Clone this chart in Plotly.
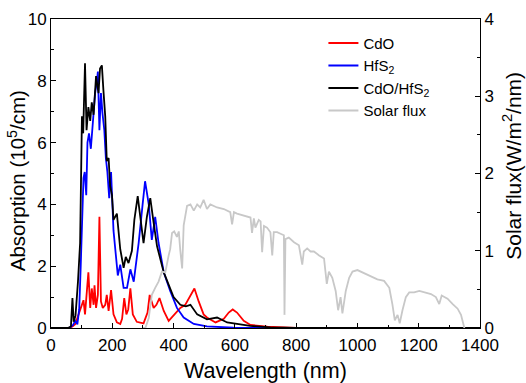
import plotly.graph_objects as go

# ---- data ----
cdo_x = [0, 60, 70, 79, 90, 100, 106, 111, 117, 122, 128, 133, 139, 142, 147, 153, 158, 163, 169, 177, 182, 188, 196, 204, 215, 226, 232, 239, 246, 252, 259, 267, 280, 302, 315, 322, 335, 344, 354, 368, 384, 405, 422, 438, 455, 468, 482, 498, 509, 537, 564, 580, 593, 607, 629, 651, 706, 750, 800, 1400]
cdo_y = [0, 0, 0.05, 0.12, 0.44, 0.75, 0.9, 0.44, 1.17, 1.8, 0.65, 1.28, 0.75, 1.38, 0.65, 1.07, 3.6, 0.86, 0.65, 0.75, 1.07, 0.55, 1.23, 0.44, 0.18, 0.13, 0.3, 0.97, 0.44, 0.6, 1.28, 0.44, 0.2, 0.15, 0.5, 1.07, 0.65, 0.75, 0.97, 0.55, 0.23, 0.45, 0.65, 0.75, 1.07, 1.28, 0.86, 0.44, 0.34, 0.18, 0.3, 0.5, 0.6, 0.5, 0.23, 0.1, 0.04, 0.02, 0, 0]

hfs_x = [0, 60, 72, 79, 86, 92, 97, 102, 106, 110, 115, 119, 124, 130, 136, 144, 150, 153, 158, 163, 168, 174, 179, 184, 190, 196, 204, 212, 218, 226, 237, 248, 259, 270, 286, 299, 307, 319, 329, 340, 351, 368, 389, 411, 433, 466, 509, 596, 700, 1400]
hfs_y = [0, 0, 0.1, 0.23, 0.12, 0.6, 2.0, 4.0, 4.85, 5.05, 4.3, 6.0, 6.3, 5.8, 6.6, 7.6, 8.0, 8.3, 6.4, 7.6, 6.95, 6.4, 5.5, 5.05, 4.2, 5.05, 3.15, 2.3, 1.7, 2.05, 1.3, 1.3, 1.9, 1.5, 2.75, 4.0, 4.75, 4.0, 2.85, 3.6, 2.75, 1.8, 1.2, 0.65, 0.34, 0.13, 0.05, 0.01, 0, 0]

het_x = [0, 55, 65, 70, 74, 80, 88, 95, 101, 105, 111, 116, 122, 128, 133, 139, 147, 155, 160, 166, 171, 177, 182, 188, 193, 199, 204, 215, 226, 237, 244, 253, 264, 272, 283, 293, 302, 313, 324, 335, 346, 368, 400, 422, 440, 455, 477, 509, 542, 575, 650, 716, 800, 1400]
het_y = [0, 0, 0.05, 0.97, 0.2, 0.4, 1.5, 2.75, 6.85, 6.3, 8.57, 6.4, 7.15, 6.7, 7.3, 6.9, 8.15, 7.6, 8.4, 8.5, 7.7, 6.85, 5.4, 5.5, 4.6, 4.3, 3.5, 3.7, 2.55, 1.95, 2.3, 2.1, 2.5, 3.5, 4.27, 3.4, 2.75, 3.6, 4.2, 3.4, 2.65, 1.8, 1.0, 0.75, 0.7, 0.75, 0.44, 0.28, 0.34, 0.18, 0.07, 0.02, 0, 0]

sol_x = [300, 308, 319, 329, 340, 351, 362, 373, 384, 389, 395, 402, 411, 417, 422, 428, 433, 444, 455, 466, 477, 487, 498, 509, 520, 542, 564, 585, 591, 597, 607, 629, 651, 656, 662, 667, 678, 684, 689, 695, 705, 716, 722, 727, 738, 749, 760, 762, 765, 776, 793, 809, 820, 825, 836, 847, 858, 875, 891, 900, 907, 918, 929, 937, 945, 951, 962, 973, 984, 1000, 1022, 1044, 1065, 1087, 1104, 1114, 1122, 1131, 1138, 1147, 1158, 1169, 1185, 1202, 1218, 1240, 1256, 1267, 1275, 1294, 1311, 1327, 1338, 1346, 1349]
sol_y = [0, 0, 0.13, 0.43, 0.52, 0.6, 0.73, 0.72, 0.94, 1.02, 1.23, 1.25, 1.18, 1.25, 1.0, 0.77, 1.33, 1.58, 1.6, 1.52, 1.6, 1.56, 1.66, 1.54, 1.6, 1.56, 1.54, 1.5, 1.34, 1.5, 1.48, 1.45, 1.43, 1.23, 1.42, 1.3, 1.4, 1.38, 0.98, 1.32, 1.3, 1.24, 0.94, 1.24, 1.24, 1.22, 1.2, 0.17, 1.15, 1.17, 1.11, 1.07, 0.82, 0.99, 1.03, 0.99, 0.99, 0.94, 0.9, 0.57, 0.73, 0.65, 0.48, 0.23, 0.4, 0.19, 0.48, 0.65, 0.73, 0.75, 0.71, 0.67, 0.63, 0.61, 0.52, 0.31, 0.1, 0.17, 0.06, 0.23, 0.4, 0.46, 0.46, 0.48, 0.46, 0.44, 0.4, 0.31, 0.42, 0.38, 0.31, 0.25, 0.17, 0.02, 0]

x_title = "Wavelength (nm)"
y_title = "Absorption (10<sup>5</sup>/cm)"
y2_title = "Solar flux(W/m<sup>2</sup>/nm)"

FONT = "Liberation Sans, Arial, sans-serif"

fig = go.Figure()
fig.add_trace(go.Scatter(x=cdo_x, y=cdo_y, mode="lines", name="CdO",
                         line=dict(color="#ff0000", width=1.8)))
fig.add_trace(go.Scatter(x=hfs_x, y=hfs_y, mode="lines", name="HfS<sub>2</sub>",
                         line=dict(color="#0000ff", width=1.8)))
fig.add_trace(go.Scatter(x=het_x, y=het_y, mode="lines", name="CdO/HfS<sub>2</sub>",
                         line=dict(color="#000000", width=1.8)))
fig.add_trace(go.Scatter(x=sol_x, y=sol_y, mode="lines", name="Solar flux",
                         line=dict(color="#c8c8c8", width=1.8), yaxis="y2"))

axis_common = dict(showline=True, linecolor="black", linewidth=1, ticks="inside",
                   ticklen=5, tickcolor="black", showgrid=False, zeroline=False,
                   tickfont=dict(size=17, color="black", family=FONT))

fig.update_layout(
    width=526, height=383,
    margin=dict(l=51, r=46, t=10, b=55),
    paper_bgcolor="white", plot_bgcolor="white",
    font=dict(family=FONT, color="black"),
    xaxis=dict(range=[0, 1400], dtick=200, mirror=True, ticklabelstandoff=2,
               minor=dict(dtick=100, ticks="inside", ticklen=3, tickcolor="black"),
               **axis_common),
    yaxis=dict(range=[0, 10], dtick=2,
               minor=dict(dtick=1, ticks="inside", ticklen=3, tickcolor="black"),
               **axis_common),
    yaxis2=dict(range=[0, 4], dtick=1, overlaying="y", side="right",
                minor=dict(dtick=0.5, ticks="inside", ticklen=3, tickcolor="black"),
                **axis_common),
    legend=dict(x=0.635, y=0.975, xanchor="left", yanchor="top",
                bgcolor="rgba(0,0,0,0)", font=dict(size=15, family=FONT),
                tracegroupgap=0, itemwidth=30),
    showlegend=True,
    annotations=[
        dict(text=x_title, xref="paper", yref="paper", x=0.501, y=-0.138,
             xanchor="center", yanchor="middle", showarrow=False,
             font=dict(size=21.5, family=FONT, color="black")),
        dict(text=y_title, xref="paper", yref="paper", x=-0.0793, y=0.478,
             xanchor="center", yanchor="middle", showarrow=False,
             font=dict(size=20.5, family=FONT, color="black"), textangle=-90),
        dict(text=y2_title, xref="paper", yref="paper", x=1.0746, y=0.525,
             xanchor="center", yanchor="middle", showarrow=False,
             font=dict(size=21, family=FONT, color="black"), textangle=-90),
    ],
)

fig.write_html("out.html", config={"displayModeBar": False},
               post_script="document.body.style.margin='0';document.body.style.overflow='hidden';")
